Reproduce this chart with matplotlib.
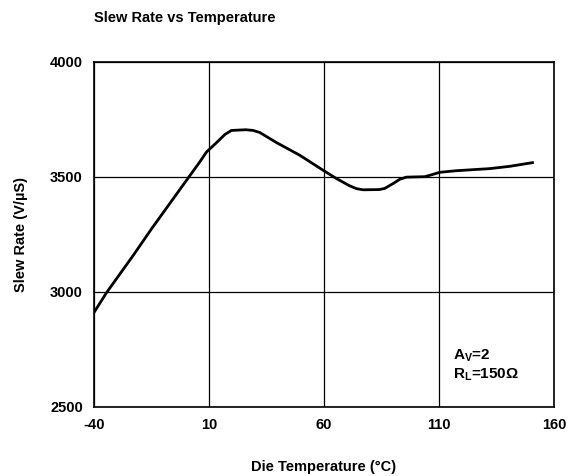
import matplotlib
matplotlib.use("Agg")
import matplotlib.pyplot as plt

plt.rcParams['font.family'] = ['Liberation Sans', 'DejaVu Sans']
plt.rcParams['font.weight'] = 'bold'
plt.rcParams['axes.unicode_minus'] = False
plt.rcParams['mathtext.fontset'] = 'custom'
plt.rcParams['mathtext.rm'] = 'Liberation Sans:bold'
plt.rcParams['mathtext.bf'] = 'Liberation Sans:bold'
plt.rcParams['mathtext.it'] = 'Liberation Sans:bold'

# curve
temp = [-40, -34.5, -22.9, -14.9, 0.3, 6.0, 9.0, 13.3, 17.0, 19.8, 26.0,
        29.2, 32.1, 39.4, 49.5, 59.6, 65.4, 71.0, 74.1, 77, 84.0, 86.4,
        90, 93.0, 95.8, 103.8, 107.0, 110.3, 117.6, 132, 140.7, 150.6]
slew = [2910, 2997, 3159, 3275, 3486, 3565, 3609, 3649, 3685, 3702, 3705,
        3702, 3693, 3649, 3594, 3529, 3493, 3462, 3449, 3444, 3445, 3450,
        3471, 3490, 3499, 3501, 3510, 3520, 3527, 3536, 3546, 3562]

xticks = [-40, 10, 60, 110, 160]
yticks = [2500, 3000, 3500, 4000]

fig = plt.figure(figsize=(5.76, 4.76), dpi=100)
ax = fig.add_axes([0.163, 0.145, 0.799, 0.725])

ax.plot(temp, slew, color='black', lw=2, solid_joinstyle='round')

ax.set_xlim(-40, 160)
ax.set_ylim(2500, 4000)
ax.set_xticks(xticks)
ax.set_yticks(yticks)
ax.tick_params(length=0, labelsize=10.5, pad=8)
ax.grid(True, color='black', lw=0.9)
for s in ax.spines.values():
    s.set_linewidth(1.2)

ax.set_xlabel('Die Temperature (°C)', fontsize=10.5, fontweight='bold', labelpad=20)
ax.set_ylabel('Slew Rate (V/µS)', fontsize=10.5, fontweight='bold', labelpad=16)

fig.text(0.163, 0.963, 'Slew Rate vs Temperature', fontsize=10.5,
         fontweight='bold', ha='left', va='center')

ax.text(116, 2704, r'$\mathregular{A_V}$=2', fontsize=11, fontweight='bold')
ax.text(116, 2622, r'$\mathregular{R_L}$=150Ω', fontsize=11, fontweight='bold')

fig.savefig('out.png', dpi=100)
